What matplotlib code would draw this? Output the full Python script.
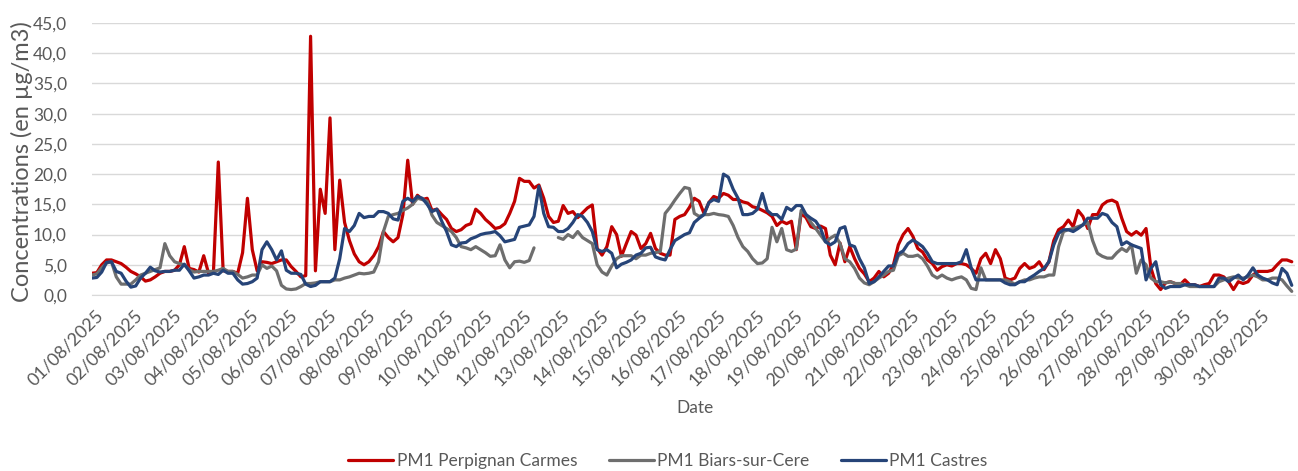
import numpy as np
import pandas as pd
import matplotlib
matplotlib.use("Agg")
import matplotlib.pyplot as plt
import matplotlib.dates as mdates
from matplotlib.ticker import MultipleLocator, FuncFormatter
from matplotlib.transforms import ScaledTranslation

plt.rcParams['font.family'] = ['Lato', 'DejaVu Sans']

# Concentrations PM1 (µg/m3), one value every 3 hours, one row per day of August 2025
perpignan = [
    3.6, 3.7, 5.0, 5.8, 5.8, 5.5, 5.2, 4.6,
    3.9, 3.5, 3.0, 2.3, 2.5, 3.0, 3.6, 3.9,
    3.9, 4.1, 5.0, 8.0, 4.4, 4.2, 3.8, 6.5,
    3.6, 3.8, 22.0, 4.0, 3.9, 3.9, 3.6, 7.0,
    16.0, 7.5, 4.0, 5.5, 5.4, 5.2, 5.5, 5.8,
    5.8, 4.7, 3.9, 3.0, 3.2, 42.8, 4.0, 17.5,
    13.5, 29.3, 7.5, 19.0, 12.0, 9.0, 6.8, 5.5,
    5.0, 5.5, 6.5, 8.0, 10.5, 9.5, 8.8, 9.5,
    13.3, 22.3, 15.0, 16.5, 15.8, 16.0, 14.0, 14.2,
    13.3, 12.5, 11.0, 10.5, 10.8, 11.5, 11.8, 14.2,
    13.5, 12.5, 11.8, 11.0, 11.2, 11.8, 13.5, 15.5,
    19.3, 18.8, 18.8, 17.7, 18.2, 16.0, 13.0, 12.0,
    12.2, 14.8, 13.5, 13.8, 12.8, 13.6, 14.4, 14.9,
    7.7, 6.6, 8.0, 11.3, 10.0, 6.4, 8.5, 10.5,
    9.9, 7.7, 8.5, 10.2, 7.7, 6.9, 6.6, 6.6,
    12.5, 13.0, 13.3, 14.5, 16.0, 15.5, 13.5, 15.3,
    16.3, 16.0, 16.8, 16.5, 15.8, 15.8, 15.4, 15.2,
    14.6, 14.4, 14.0, 13.6, 13.0, 11.5, 12.2, 11.8,
    12.2, 7.5, 13.5, 12.8, 11.3, 11.0, 11.4, 11.0,
    6.6, 5.0, 8.6, 5.5, 8.0, 6.0, 4.4, 3.5,
    2.2, 2.8, 3.9, 3.0, 3.6, 5.0, 8.3, 10.0,
    11.0, 9.7, 7.7, 7.1, 5.8, 5.2, 4.1, 4.7,
    5.0, 4.8, 5.2, 5.2, 5.0, 4.4, 3.6, 6.0,
    6.9, 5.2, 7.5, 6.0, 2.8, 2.5, 2.8, 4.4,
    5.2, 4.4, 4.7, 5.5, 4.2, 5.5, 9.0, 10.8,
    11.3, 12.4, 11.3, 14.0, 13.0, 11.0, 13.3, 13.3,
    14.9, 15.5, 15.7, 15.3, 12.7, 10.5, 9.9, 10.5,
    9.9, 11.0, 4.5, 1.9, 0.9, 2.0, 2.2, 1.9,
    1.7, 2.5, 1.7, 1.7, 1.4, 1.7, 1.9, 3.3,
    3.3, 3.0, 2.2, 0.9, 2.2, 1.9, 2.2, 3.3,
    3.9, 3.9, 3.9, 4.1, 5.0, 5.8, 5.8, 5.5,
]

biars = [
    3.3, 3.5, 4.5, 5.3, 5.5, 3.0, 1.8, 1.8,
    1.8, 2.5, 3.3, 3.6, 3.9, 4.2, 4.5, 8.5,
    6.5, 5.5, 5.2, 5.0, 4.2, 3.8, 3.9, 3.9,
    3.9, 3.9, 4.1, 4.4, 3.9, 3.9, 3.4, 2.8,
    3.0, 3.3, 3.3, 5.0, 4.4, 4.8, 4.0, 1.6,
    1.0, 0.9, 1.0, 1.4, 1.9, 1.9, 2.0, 2.2,
    2.2, 2.2, 2.5, 2.5, 2.8, 3.0, 3.3, 3.6,
    3.5, 3.6, 3.8, 5.5, 10.5, 13.0, 13.3, 13.5,
    14.0, 14.4, 15.0, 16.0, 15.8, 15.5, 13.2, 12.0,
    11.5, 11.0, 10.5, 9.5, 8.0, 7.8, 7.5, 8.0,
    7.5, 7.0, 6.4, 6.5, 8.3, 5.8, 4.5, 5.5,
    5.6, 5.4, 5.7, 7.8, np.nan, np.nan, np.nan, np.nan,
    9.5, 9.2, 10.0, 9.5, 10.5, 9.5, 9.0, 8.5,
    5.0, 3.8, 3.3, 4.8, 6.0, 6.5, 6.5, 6.5,
    6.0, 6.6, 6.6, 6.9, 7.0, 7.2, 13.5, 14.5,
    15.7, 16.8, 17.8, 17.6, 13.5, 13.0, 13.3, 13.3,
    13.5, 13.3, 13.2, 13.0, 11.5, 9.5, 8.0, 7.2,
    6.0, 5.2, 5.3, 6.0, 11.2, 8.8, 11.0, 7.5,
    7.2, 7.6, 14.0, 13.3, 12.0, 11.0, 9.9, 8.8,
    9.4, 9.9, 8.5, 6.0, 5.5, 4.4, 2.8, 2.0,
    1.7, 2.2, 2.8, 3.3, 3.9, 4.1, 6.5, 6.9,
    6.4, 6.4, 6.6, 6.0, 4.8, 3.3, 2.8, 3.3,
    2.8, 2.5, 2.8, 3.0, 2.5, 1.1, 0.9, 4.5,
    2.5, 2.5, 2.5, 2.5, 2.5, 2.2, 1.8, 2.2,
    2.5, 2.5, 2.8, 3.0, 3.0, 3.3, 3.3, 8.0,
    10.5, 10.8, 11.0, 11.3, 11.6, 12.0, 9.0, 6.9,
    6.4, 6.1, 6.1, 7.0, 7.7, 7.2, 8.3, 3.6,
    5.8, 5.0, 2.8, 2.2, 2.2, 2.0, 2.2, 1.9,
    1.9, 1.7, 1.4, 1.4, 1.4, 1.4, 1.4, 1.4,
    2.2, 2.5, 2.8, 3.0, 2.8, 2.8, 3.0, 3.3,
    3.0, 2.5, 2.5, 2.8, 2.8, 2.5, 1.5, 0.6,
]

castres = [
    2.8, 2.9, 3.8, 5.4, 5.5, 3.9, 3.6, 2.3,
    1.3, 1.5, 2.8, 3.6, 4.6, 4.0, 3.8, 3.9,
    3.9, 4.1, 4.1, 5.1, 4.0, 2.8, 3.0, 3.3,
    3.3, 3.6, 3.4, 4.1, 3.6, 3.6, 2.5, 1.8,
    1.9, 2.2, 2.8, 7.5, 8.8, 7.5, 5.8, 7.3,
    4.1, 3.6, 3.6, 3.4, 1.8, 1.4, 1.6, 2.2,
    2.2, 2.2, 2.8, 6.0, 11.0, 10.5, 11.5, 13.5,
    12.8, 13.0, 13.0, 13.8, 13.8, 13.5, 12.6, 12.4,
    15.5, 16.0, 15.5, 16.3, 16.0, 15.0, 13.8, 14.2,
    12.2, 10.5, 8.3, 8.0, 8.6, 8.7, 9.3, 9.6,
    10.0, 10.2, 10.3, 10.5, 9.8, 8.8, 9.0, 9.2,
    11.2, 11.4, 11.6, 13.0, 18.0, 13.5, 11.3, 11.2,
    10.5, 10.5, 11.0, 12.0, 13.3, 13.0, 12.0, 10.5,
    7.5, 7.2, 7.5, 6.9, 4.5, 5.1, 5.4, 5.8,
    6.6, 6.9, 7.8, 7.9, 6.3, 6.0, 5.8, 7.5,
    9.0, 9.5, 10.0, 10.3, 12.0, 12.7, 13.3, 15.3,
    15.8, 15.5, 20.0, 19.5, 17.5, 16.0, 13.3, 13.3,
    13.5, 14.2, 16.8, 14.0, 13.3, 13.3, 12.5, 14.5,
    14.0, 14.8, 14.8, 13.3, 12.7, 12.2, 11.0, 8.8,
    8.3, 8.8, 11.0, 11.3, 8.3, 8.0, 6.0, 4.5,
    1.9, 2.2, 3.0, 3.9, 4.8, 4.8, 6.8, 7.3,
    8.5, 9.1, 8.6, 8.0, 6.9, 5.5, 5.2, 5.2,
    5.2, 5.2, 5.2, 5.5, 7.5, 4.5, 2.5, 2.5,
    2.5, 2.5, 2.5, 2.5, 2.0, 1.7, 1.7, 2.2,
    2.2, 2.8, 3.3, 3.9, 4.4, 5.5, 8.3, 10.2,
    10.8, 10.8, 10.5, 11.0, 11.6, 12.7, 12.7, 12.7,
    13.5, 13.2, 12.0, 11.3, 8.3, 8.8, 8.3, 8.0,
    7.7, 2.5, 4.4, 5.5, 1.7, 1.1, 1.4, 1.4,
    1.4, 1.7, 1.7, 1.7, 1.4, 1.4, 1.4, 1.4,
    2.8, 2.8, 2.2, 2.8, 3.3, 2.5, 3.3, 4.5,
    3.3, 2.8, 2.5, 2.0, 1.7, 4.4, 3.6, 1.6,
]

stations = ["PM1 Perpignan Carmes", "PM1 Biars-sur-Cere", "PM1 Castres"]
couleurs = ["#C00000", "#6E6E6E", "#264478"]

dates = pd.date_range("2025-08-01 00:00", periods=len(perpignan), freq="3h")
df = pd.DataFrame({stations[0]: perpignan, stations[1]: biars, stations[2]: castres}, index=dates)

gris_txt = "#595959"

fig = plt.figure(figsize=(12.98, 4.71), dpi=100)
ax = fig.add_axes([92 / 1298, 1 - 295 / 471, 1203 / 1298, 272 / 471])

for nom, c in zip(stations, couleurs):
    ax.plot(df.index, df[nom], color=c, lw=2.3, label=nom,
            solid_joinstyle="round", solid_capstyle="round")

ax.set_ylim(0, 45)
ax.set_xlim(pd.Timestamp("2025-08-01 00:00"), pd.Timestamp("2025-08-31 23:00"))
ax.yaxis.set_major_locator(MultipleLocator(5))
ax.yaxis.set_major_formatter(FuncFormatter(lambda v, p: f"{v:.1f}".replace(".", ",")))
ax.xaxis.set_major_locator(mdates.DayLocator())
ax.xaxis.set_major_formatter(mdates.DateFormatter("%d/%m/%Y"))

ax.grid(axis="y", color="#D9D9D9", lw=1)
ax.set_axisbelow(True)
for s in ["top", "right", "left"]:
    ax.spines[s].set_visible(False)
ax.spines["bottom"].set_color("#D9D9D9")
ax.tick_params(axis="both", length=0, colors=gris_txt, labelsize=12.5)
ax.tick_params(axis="y", pad=18)
ax.tick_params(axis="x", pad=10, labelsize=13)

# dates inclinées, décalées pour finir sous le repère du jour
decal = ScaledTranslation(9 / 100, -4 / 100, fig.dpi_scale_trans)
for lab in ax.get_xticklabels():
    lab.set_rotation(45)
    lab.set_ha("right")
    lab.set_va("center")
    lab.set_rotation_mode("anchor")
    lab.set_transform(lab.get_transform() + decal)

fig.text(22 / 1298, 1 - 162 / 471, "Concentrations (en µg/m3)", rotation=90,
         ha="center", va="center", color=gris_txt, fontsize=17)
fig.text(695 / 1298, 1 - 408 / 471, "Date", ha="center", va="center",
         color=gris_txt, fontsize=12.5)

fig.legend(loc="center", bbox_to_anchor=(668 / 1298, 1 - 461 / 471), ncol=3,
           frameon=False, fontsize=12.5, labelcolor=gris_txt, handlelength=2.6,
           handletextpad=0.2, columnspacing=1.8)

fig.savefig("out.png", dpi=100)
